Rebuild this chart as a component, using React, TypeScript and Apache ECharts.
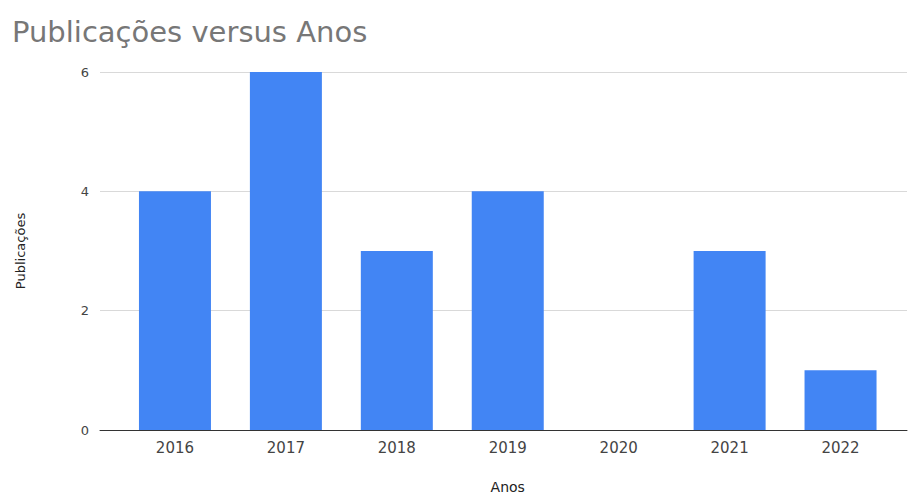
import React, { useEffect, useRef } from "react";
import * as echarts from "echarts";

const years = ["2016", "2017", "2018", "2019", "2020", "2021", "2022"];
const publications = [4, 6, 3, 4, 0, 3, 1];
const yTicks = { min: 0, max: 6, interval: 2 };
const titleText = "Publicações versus Anos";
const xName = "Anos";
const yName = "Publicações";

export default function App() {
  const ref = useRef<HTMLDivElement>(null);
  useEffect(() => {
    if (!ref.current) return;
    const chart = echarts.init(ref.current, null, { renderer: "svg" });
    const font = "'DejaVu Sans', sans-serif";
    chart.setOption({
      animation: false,
      backgroundColor: "#ffffff",
      textStyle: { fontFamily: font },
      title: {
        text: titleText,
        left: 7,
        top: 12,
        textStyle: { fontFamily: font, fontSize: 29, fontWeight: "normal", color: "#777777" },
      },
      grid: [
        { left: 100, right: 2, top: 72, bottom: 67, containLabel: false, outerBoundsMode: "none" },
        { left: 119.5, right: 13, top: 72, bottom: 67, containLabel: false, outerBoundsMode: "none" },
      ],
      xAxis: [
        {
          type: "category",
          gridIndex: 0,
          data: years,
          axisLine: { show: true, lineStyle: { color: "#333333", width: 1 } },
          axisTick: { show: false },
          axisLabel: { show: false },
          splitLine: { show: false },
        },
        {
          type: "category",
          gridIndex: 1,
          data: years,
          axisLine: { show: false },
          axisTick: { show: false },
          axisLabel: { color: "#444444", fontSize: 15, margin: 10, fontFamily: font },
          name: xName,
          nameLocation: "middle",
          nameGap: 50,
          nameTextStyle: { color: "#222222", fontSize: 14, fontFamily: font },
        },
      ],
      yAxis: [
        {
          type: "value",
          gridIndex: 0,
          min: yTicks.min,
          max: yTicks.max,
          interval: yTicks.interval,
          axisLine: { show: false },
          axisTick: { show: false },
          axisLabel: { color: "#444444", fontSize: 13, margin: 11, fontFamily: font },
          splitLine: { show: true, lineStyle: { color: "#d9d9d9", width: 1 } },
          name: yName,
          nameLocation: "middle",
          nameGap: 73,
          nameRotate: 90,
          nameTextStyle: { color: "#222222", fontSize: 13, fontFamily: font },
        },
        {
          type: "value",
          gridIndex: 1,
          min: yTicks.min,
          max: yTicks.max,
          interval: yTicks.interval,
          show: false,
        },
      ],
      series: [
        {
          type: "bar",
          xAxisIndex: 1,
          yAxisIndex: 1,
          data: publications,
          barWidth: 72,
          itemStyle: { color: "#4285F4" },
          z: 3,
        },
      ],
    });
    return () => chart.dispose();
  }, []);
  return <div ref={ref} style={{ width: 909, height: 497, position: "absolute", left: 0, top: 0 }} />;
}
